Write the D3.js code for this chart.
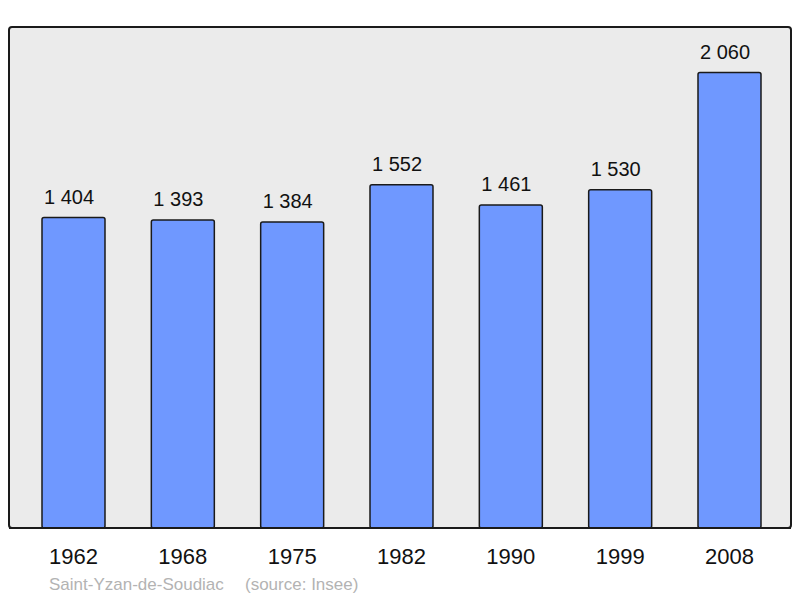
<!DOCTYPE html>
<html><head><meta charset="utf-8">
<script src="https://cdn.jsdelivr.net/npm/d3@7"></script>
<style>body{margin:0;background:#fff}svg{display:block}</style>
</head><body>
<svg id="c" width="800" height="598"></svg>
<script>
const years = ["1962","1968","1975","1982","1990","1999","2008"];
const population = [1404,1393,1384,1552,1461,1530,2060];
const valueLabels = ["1 404","1 393","1 384","1 552","1 461","1 530","2 060"];
const commune = "Saint-Yzan-de-Soudiac";
const source = "(source: Insee)";

const svg = d3.select("#c");
const L=9, T=27, R=791, B=528;
const FONT = "Liberation Sans, Arial, sans-serif";
svg.append("rect").attr("x",L).attr("y",T).attr("width",R-L).attr("height",B-T)
  .attr("rx",3).attr("fill","#ebebeb").attr("stroke","#1a1a1a").attr("stroke-width",2);

const x = d3.scaleBand().domain(years).range([9.2,793.8]).paddingInner(0.4238).paddingOuter(0.3);
const y = d3.scaleLinear().domain([0, 2266]).range([B, T]);

svg.selectAll("rect.bar").data(population).join("rect").attr("class","bar")
  .attr("x",(d,i)=>x(years[i])).attr("y",d=>y(d))
  .attr("width",x.bandwidth()).attr("height",d=>B-y(d))
  .attr("rx",2).attr("fill","#6f98ff").attr("stroke","#1a1a1a").attr("stroke-width",1.5);

svg.selectAll("text.v").data(population).join("text").attr("class","v")
  .attr("x",(d,i)=>x(years[i])+2).attr("y",d=>y(d)-14)
  .attr("text-anchor","start").attr("font-family",FONT)
  .attr("font-size",20).attr("fill","#111").text((d,i)=>valueLabels[i]);

svg.append("line").attr("x1",L).attr("x2",R).attr("y1",B).attr("y2",B).attr("stroke","#1a1a1a").attr("stroke-width",2);

const xAxis = d3.axisBottom(x).tickSize(0).tickPadding(0);
const g = svg.append("g").attr("transform",`translate(0,${B})`).call(xAxis);
g.select(".domain").remove();
g.selectAll("text").attr("font-family",FONT).attr("font-size",22)
  .attr("fill","#111").attr("dy",null).attr("y",36);

svg.append("text").attr("x",49).attr("y",590).attr("font-family",FONT)
  .attr("font-size",17).attr("fill","#b3b3b3").text(commune);
svg.append("text").attr("x",245).attr("y",590).attr("font-family",FONT)
  .attr("font-size",17).attr("fill","#b3b3b3").text(source);
</script>
</body></html>
